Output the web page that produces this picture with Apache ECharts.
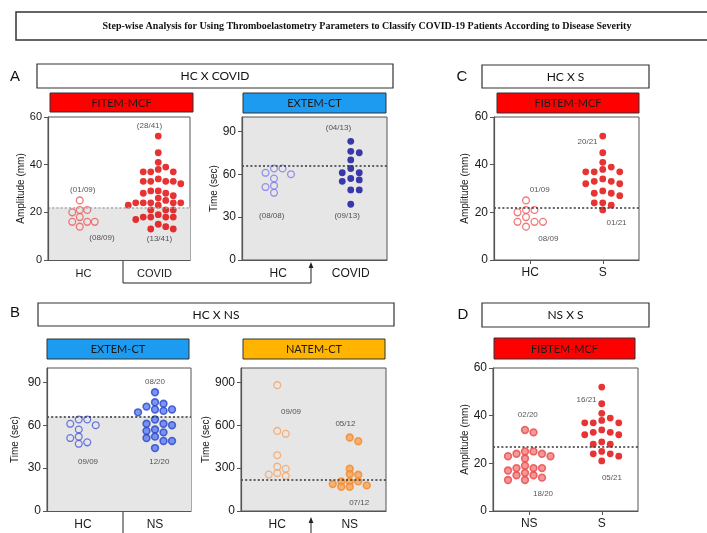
<!DOCTYPE html>
<html>
<head>
<meta charset="utf-8">
<script src="https://cdn.jsdelivr.net/npm/echarts@6/dist/echarts.min.js"></script>
<style>
  html, body { margin: 0; padding: 0; background: #fff; }
  #chart { width: 707px; height: 533px; }
</style>
</head>
<body>
<div id="chart"></div>
<script>
// ---------------- categories and tick labels ----------------
const catsA = ['HC', 'COVID'];
const catsB = ['HC', 'NS'];
const catsC = ['HC', 'S'];
const catsD = ['NS', 'S'];
const amplitudeTicks = [0, 20, 40, 60];
const timeTicks = [0, 30, 60, 90];
const natemTicks = [0, 300, 600, 900];

// ---------------- measured values ----------------
// A: FIBTEM-MCF (mm) and EXTEM-CT (sec), healthy controls vs COVID
const fibtemHC = [25, 21, 21, 20, 18, 16, 16, 16, 14];
const fibtemCOVID = [52, 45, 41, 39, 38, 37, 37, 37, 34, 33, 33, 33, 33, 32, 29, 29, 28, 28, 27, 26, 25,
  24, 24, 24, 24, 24, 23, 23, 21, 21, 21, 19, 18, 18, 18, 18, 17, 15, 14, 13, 13];
const extemHC_A = [64, 64, 61, 60, 57, 52, 51, 47];
const extemCOVID = [83, 76, 75, 70, 64, 61, 61, 57, 56, 55, 49, 49, 39];
// B: EXTEM-CT and NATEM-CT (sec), healthy controls vs non-severe
const extemHC_B = [64, 64, 61, 60, 57, 52, 51, 48, 47];
const extemNS = [83, 76, 75, 73, 71, 71, 70, 69, 64, 61, 61, 60, 57, 56, 55, 52, 51, 49, 49, 44];
const natemHC = [880, 560, 540, 390, 310, 295, 265, 255, 245];
const natemNS = [514, 488, 295, 258, 253, 207, 207, 207, 188, 179, 170, 170];
// C: FIBTEM-MCF, healthy controls vs severe
const fibtemS_C = [52, 45, 41, 39, 38, 37, 37, 37, 34, 33, 33, 32, 32, 29, 28, 28, 27, 24, 24, 23, 21];
// D: FIBTEM-MCF, non-severe vs severe
const fibtemNS_D = [34, 33, 25, 25, 24, 24, 23, 23, 22, 19, 18, 18, 18, 17, 16, 15, 15, 14, 13, 13];
const fibtemS_D = [52, 45, 41, 39, 38, 37, 37, 37, 34, 33, 33, 32, 32, 29, 28, 28, 25, 24, 24, 23, 21];

// cut-off values
const cutA1 = 22, cutA2 = 66, cutB1 = 66, cutB2 = 220, cutC = 22, cutD = 27;

// ---------------- styles ----------------
const RED = '#e00000';
function hollow(c) { return { color: '#ffffff00', borderColor: c, borderWidth: 1.3 }; }
function solid(c) { return { color: c, borderColor: c, borderWidth: 0 }; }
function ring(fill, edge) { return { color: fill, borderColor: edge, borderWidth: 1.6 }; }

const panels = [
  { grid: { left: 48, top: 117, width: 142, height: 143 }, cats: catsA, groups: [fibtemHC, fibtemCOVID],
    max: 60, ticks: amplitudeTicks, yName: 'Amplitude (mm)', nameGap: 18, cut: cutA1, step: 7.5, gap: 6.4,
    shade: 'below', bg: '#fff', cutColor: '#a8a8a8', xTicks: false, fs: 11, catFs: 11,
    styles: [hollow('#f05858'), solid(RED)],
    notes: [['(01/09)', 0.49, 29.5], ['(08/09)', 0.76, 9.3], ['(28/41)', 1.43, 56.5], ['(13/41)', 1.57, 8.8]] },
  { grid: { left: 242, top: 117, width: 145, height: 143 }, cats: catsA, groups: [extemHC_A, extemCOVID],
    max: 100, ticks: timeTicks, yName: 'Time (sec)', nameGap: 18, cut: cutA2, step: 8.5, gap: 6.4,
    shade: 'all', bg: '#e6e6e6', cutColor: '#333', xTicks: false, fs: 12, catFs: 12,
    styles: [hollow('#7a7ae8'), solid('#0c0c9c')],
    notes: [['(08/08)', 0.41, 31.2], ['(04/13)', 1.33, 92.2], ['(09/13)', 1.45, 31.2]] },
  { grid: { left: 494, top: 117, width: 145, height: 143 }, cats: catsC, groups: [fibtemHC, fibtemS_C],
    max: 60, ticks: amplitudeTicks, yName: 'Amplitude (mm)', nameGap: 24, cut: cutC, step: 8.5, gap: 6.4,
    shade: 'none', bg: '#fff', cutColor: '#333', xTicks: true, fs: 12, catFs: 12,
    styles: [hollow('#f05858'), solid(RED)],
    notes: [['01/09', 0.63, 29.3], ['08/09', 0.75, 9.1], ['20/21', 1.29, 49.5], ['01/21', 1.69, 15.8]] },
  { grid: { left: 47, top: 368, width: 144, height: 143 }, cats: catsB, groups: [extemHC_B, extemNS],
    max: 100, ticks: timeTicks, yName: 'Time (sec)', nameGap: 27, cut: cutB1, step: 8.5, gap: 6.4,
    shade: 'below', bg: '#fff', cutColor: '#333', xTicks: false, fs: 12, catFs: 12,
    styles: [hollow('#4a5ad8'), ring('#5a7cf0', '#2c47c9')],
    notes: [['09/09', 0.57, 34.5], ['08/20', 1.5, 90.6], ['12/20', 1.56, 34.5]] },
  { grid: { left: 241, top: 368, width: 145, height: 143 }, cats: catsB, groups: [natemHC, natemNS],
    max: 1000, ticks: natemTicks, yName: 'Time (sec)', nameGap: 26, cut: cutB2, step: 8.5, gap: 5,
    shade: 'all', bg: '#e6e6e6', cutColor: '#333', xTicks: false, fs: 12, catFs: 12,
    styles: [hollow('#f5a262'), ring('#f8a455', '#f28a30')],
    notes: [['09/09', 0.69, 691], ['05/12', 1.44, 610], ['07/12', 1.63, 58]] },
  { grid: { left: 493, top: 368, width: 145, height: 143 }, cats: catsD, groups: [fibtemNS_D, fibtemS_D],
    max: 60, ticks: amplitudeTicks, yName: 'Amplitude (mm)', nameGap: 19, cut: cutD, step: 8.5, gap: 6.4,
    shade: 'none', bg: '#fff', cutColor: '#333', xTicks: true, fs: 12, catFs: 12,
    styles: [ring('#f47c7c', '#e84848'), solid(RED)],
    notes: [['02/20', 0.48, 40.3], ['18/20', 0.69, 7.2], ['16/21', 1.29, 46.8], ['05/21', 1.64, 13.9]] }
];

// Scatter-dot layout: dots sit in columns `step` pixels apart; a dot moves to the
// nearest free column (on the emptier side nearby) when it would come closer than
// `minGap` pixels to a dot in the same column. The swarm is centred on its group.
function dotLayout(values, centre, yMax, gridH, gridW, step, minGap) {
  const pxY = gridH / yMax, pxX = gridW / 2;
  const sorted = values.slice().sort((a, b) => b - a);
  const placed = [];
  for (const v of sorted) {
    const y = v * pxY;
    const free = c => placed.every(q => q.c !== c || Math.abs(q.y - y) >= minGap);
    const near = placed.filter(q => Math.abs(q.y - y) < 14);
    const right = near.filter(q => q.c > 0).length, left = near.filter(q => q.c < 0).length;
    let col = null;
    for (let k = 0; col === null && k < 40; k++) {
      if (k === 0) { if (free(0)) col = 0; continue; }
      const order = right <= left ? [k, -k] : [-k, k];
      for (const c of order) if (col === null && free(c)) col = c;
    }
    placed.push({ c: col, y, v });
  }
  const cs = placed.map(q => q.c);
  const shift = -(Math.max(...cs) + Math.min(...cs)) / 2;
  return placed.map(q => [centre + (q.c + shift) * step / pxX, q.v]);
}

const AXIS = '#555';
const grids = [], xAxes = [], yAxes = [], series = [];

panels.forEach((p, idx) => {
  grids.push(Object.assign({ show: true, borderColor: AXIS, borderWidth: 1, backgroundColor: p.bg }, p.grid));
  xAxes.push({
    gridIndex: idx, type: 'value', min: 0, max: 2, z: 5,
    axisLine: { show: true, onZero: false, lineStyle: { color: AXIS, width: 1.2 } },
    axisTick: { show: p.xTicks, customValues: [0.5, 1.5], length: 4, lineStyle: { color: AXIS } },
    axisLabel: { customValues: [0.5, 1.5], formatter: v => p.cats[v < 1 ? 0 : 1],
      fontFamily: 'Liberation Sans', fontSize: p.catFs, color: '#1a1a1a', margin: p.xTicks ? 7 : 8 },
    splitLine: { show: false }
  });
  yAxes.push({
    gridIndex: idx, type: 'value', min: 0, max: p.max, z: 5,
    name: p.yName, nameLocation: 'middle', nameGap: p.nameGap,
    nameTextStyle: { fontFamily: 'Liberation Sans', fontSize: 10, color: '#1a1a1a' },
    axisLine: { show: true, lineStyle: { color: AXIS, width: 1.2 } },
    axisTick: { show: true, customValues: p.ticks, length: 4, lineStyle: { color: AXIS } },
    axisLabel: { customValues: p.ticks, fontFamily: 'Liberation Sans', fontSize: p.fs, color: '#1a1a1a', margin: 6 },
    splitLine: { show: false }
  });
  // shaded region and cut-off line
  const guide = {
    type: 'scatter', xAxisIndex: idx, yAxisIndex: idx, data: [], z: 1, silent: true,
    markLine: { silent: true, symbol: 'none', label: { show: false },
      lineStyle: { color: p.cutColor, type: [2, 2.2], width: 1.5 },
      data: [{ yAxis: p.cut }] }
  };
  if (p.shade === 'below') {
    guide.markArea = { silent: true, itemStyle: { color: '#e6e6e6' },
      data: [[{ yAxis: 0 }, { yAxis: p.cut }]] };
  }
  series.push(guide);
  p.groups.forEach((vals, g) => {
    series.push({
      type: 'scatter', xAxisIndex: idx, yAxisIndex: idx, z: 3, symbol: 'circle', symbolSize: 6.8,
      itemStyle: p.styles[g],
      data: dotLayout(vals, 0.5 + g, p.max, p.grid.height, p.grid.width, p.step, p.gap)
    });
  });
  series.push({
    type: 'scatter', xAxisIndex: idx, yAxisIndex: idx, z: 4, symbolSize: 0, silent: true,
    label: { show: true, position: 'inside', formatter: '{b}', fontFamily: 'Liberation Sans', fontSize: 8, color: '#2a2a2a' },
    data: p.notes.map(n => ({ name: n[0], value: [n[1], n[2]] }))
  });
});

const titleText = 'Step-wise Analysis for Using Thromboelastometry Parameters to Classify COVID-19 Patients According to Disease Severity';
const boxFont = 'Lato';
function frame(x, y, w, h, fill, lw) {
  return { type: 'rect', shape: { x, y, width: w, height: h }, style: { fill, stroke: '#333', lineWidth: lw } };
}
function label(text, x, y, font, fill) {
  return { type: 'text', x, y, style: { text, font, fill: fill || '#111', align: 'center', verticalAlign: 'middle' } };
}
function tag(text, x, y, w, h, fill) {
  return [frame(x, y, w, h, fill, 1), label(text, x + w / 2, y + h / 2 + 0.5, '11px ' + boxFont, '#1a1a1a')];
}

const graphic = [
  frame(16, 12, 720, 28, '#fff', 1.5),
  label(titleText, 367, 26.5, 'bold 10px "Liberation Serif"', '#111'),
  // panel letters
  label('A', 15, 77, '15px "Liberation Sans"'),
  label('B', 15, 313, '15px "Liberation Sans"'),
  label('C', 462, 77, '15px "Liberation Sans"'),
  label('D', 463, 315, '15px "Liberation Sans"'),
  // comparison headers
  frame(37, 64, 356, 24, '#fff', 1.2), label('HC X COVID', 215, 76.5, '12px ' + boxFont),
  frame(38, 303, 356, 23, '#fff', 1.2), label('HC X NS', 216, 315, '12px ' + boxFont),
  frame(482, 65, 167, 23, '#fff', 1.2), label('HC X S', 565.5, 77, '12px ' + boxFont),
  frame(482, 303, 167, 24, '#fff', 1.2), label('NS X S', 565.5, 315.5, '12px ' + boxFont),
  // parameter tags
  ...tag('FITEM-MCF', 50, 93, 143, 19, '#ff0000'),
  ...tag('EXTEM-CT', 243, 93, 143, 20, '#1d9bf0'),
  ...tag('FIBTEM-MCF', 497, 93, 142, 20, '#ff0000'),
  ...tag('EXTEM-CT', 47, 339, 142, 20, '#1d9bf0'),
  ...tag('NATEM-CT', 243, 339, 142, 20, '#ffb400'),
  ...tag('FIBTEM-MCF', 494, 338, 141, 21, '#ff0000'),
  // step connectors
  { type: 'polyline', shape: { points: [[123, 261], [123, 283], [311, 283], [311, 266]] }, style: { stroke: '#222', lineWidth: 1, fill: null } },
  { type: 'polygon', shape: { points: [[311, 262], [308.6, 268], [313.4, 268]] }, style: { fill: '#222' } },
  { type: 'polyline', shape: { points: [[123, 511], [123, 533]] }, style: { stroke: '#222', lineWidth: 1, fill: null } },
  { type: 'polyline', shape: { points: [[311, 533], [311, 521]] }, style: { stroke: '#222', lineWidth: 1, fill: null } },
  { type: 'polygon', shape: { points: [[311, 517], [308.6, 523], [313.4, 523]] }, style: { fill: '#222' } }
];

const chart = echarts.init(document.getElementById('chart'), null, { renderer: 'canvas' });
chart.setOption({
  backgroundColor: '#fff',
  animation: false,
  grid: grids,
  xAxis: xAxes,
  yAxis: yAxes,
  series,
  graphic
});
</script>
</body>
</html>
